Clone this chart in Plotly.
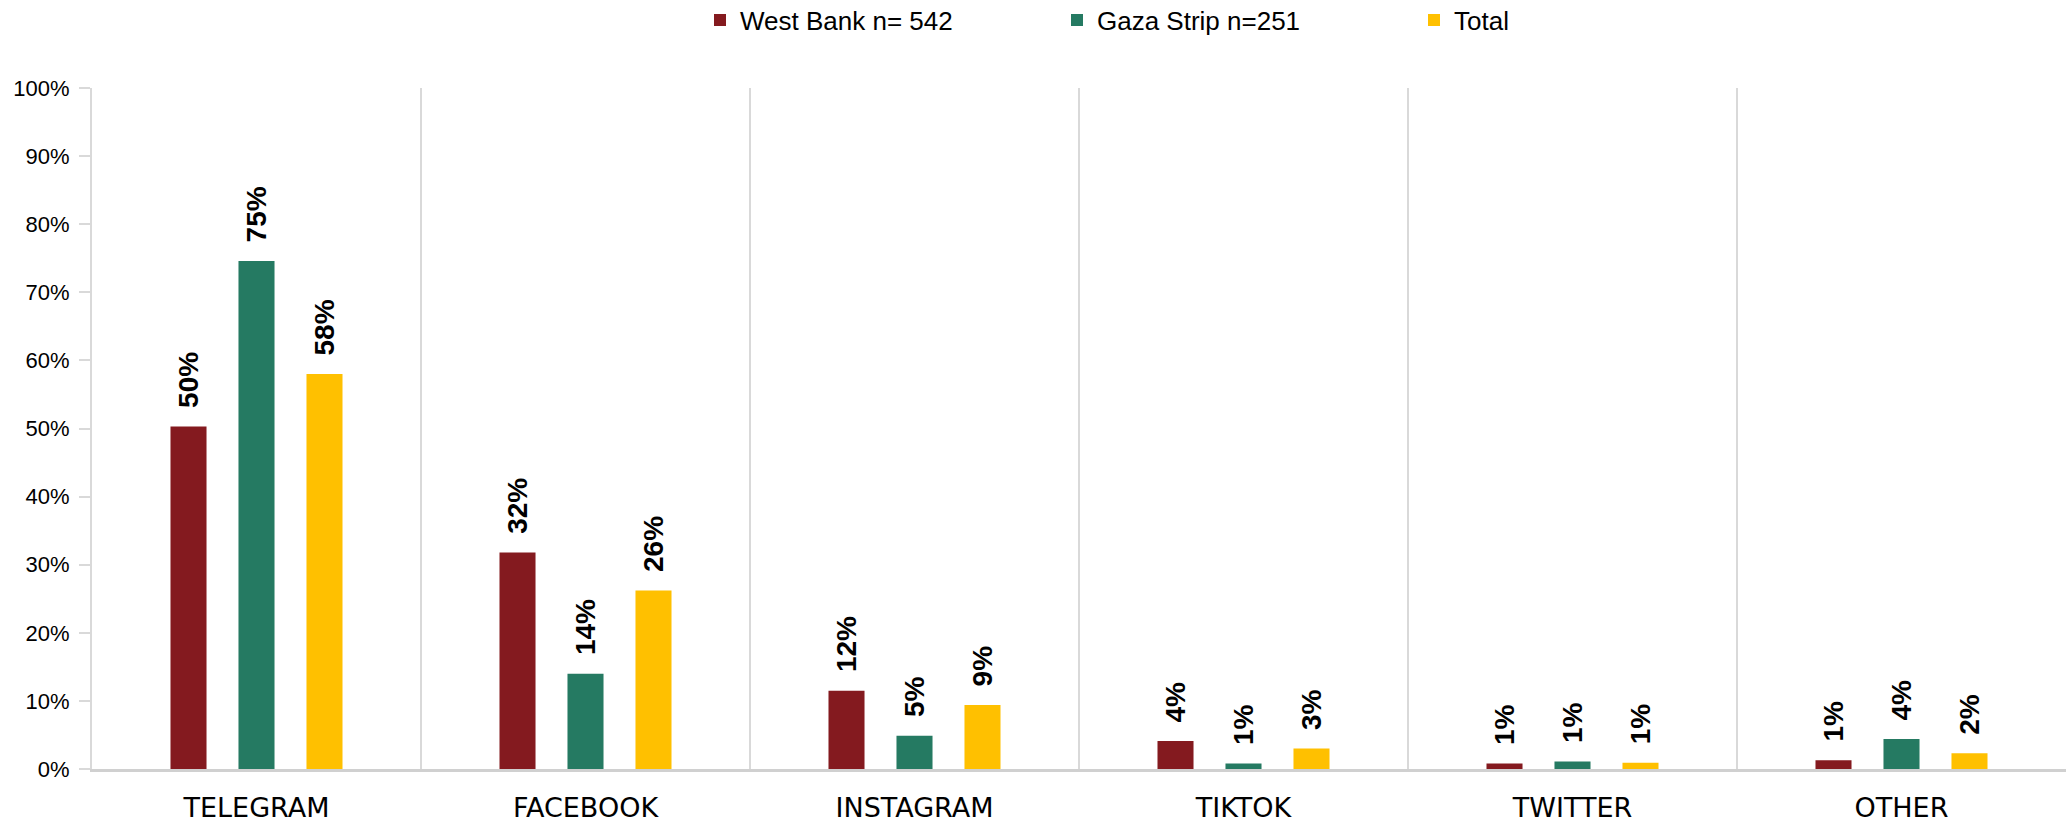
import plotly.graph_objects as go

categories = ["TELEGRAM", "FACEBOOK", "INSTAGRAM", "TIKTOK", "TWITTER", "OTHER"]
west_bank = [50.3, 31.8, 11.5, 4.1, 0.8, 1.3]
gaza = [74.6, 14.0, 4.9, 0.8, 1.1, 4.4]
total = [58.0, 26.2, 9.4, 3.0, 0.9, 2.3]
series_names = ["West Bank n= 542", "Gaza Strip n=251", "Total"]
colors = ["#841A1F", "#257A62", "#FFC000"]
y_ticks = [0, 10, 20, 30, 40, 50, 60, 70, 80, 90, 100]
y_tick_labels = [f"{v}%" for v in y_ticks]

fig = go.Figure()
for name, vals, col in zip(series_names, [west_bank, gaza, total], colors):
    fig.add_trace(go.Bar(
        x=categories, y=vals, name=name, marker=dict(color=col, line=dict(width=0)),
        text=[f"\u00a0\u00a0{round(v)}%" for v in vals], textposition="outside", textangle=-90,
        textfont=dict(family="Liberation Sans", size=28, color="black", weight="bold"),
        constraintext="none", cliponaxis=False,
    ))

fig.update_layout(
    width=2069, height=822,
    margin=dict(l=92, r=3, t=88, b=53, autoexpand=False),
    paper_bgcolor="white", plot_bgcolor="white",
    barmode="group", bargap=0.38, bargroupgap=0.47,
    font=dict(family="Liberation Sans", color="black"),
    legend=dict(orientation="h", xref="container", yref="container",
                x=700 / 2069, xanchor="left", y=1 - 20 / 822, yanchor="middle",
                font=dict(family="Liberation Sans", size=26, color="black"),
                itemwidth=30, traceorder="normal", entrywidthmode="pixels", entrywidth=312),
    showlegend=True,
)
fig.update_xaxes(
    tickson="boundaries", showgrid=True, gridcolor="#D9D9D9", gridwidth=2,
    showline=True, linecolor="#D0D0D0", linewidth=3, ticks="",
    tickfont=dict(family="DejaVu Sans", size=27, color="black"),
    ticklabelstandoff=13, automargin=False,
)
fig.update_yaxes(
    range=[0, 100], tickvals=y_ticks, ticktext=y_tick_labels,
    showgrid=False, showline=True, linecolor="#D9D9D9", linewidth=2,
    ticks="outside", ticklen=11, tickcolor="#D9D9D9", tickwidth=2,
    tickfont=dict(family="Liberation Sans", size=22, color="black"),
    ticklabelstandoff=5, zeroline=False, automargin=False,
)
fig.write_html("out.html", config={"displayModeBar": False},
               post_script="document.body.style.margin='0';document.body.style.overflow='hidden';")
